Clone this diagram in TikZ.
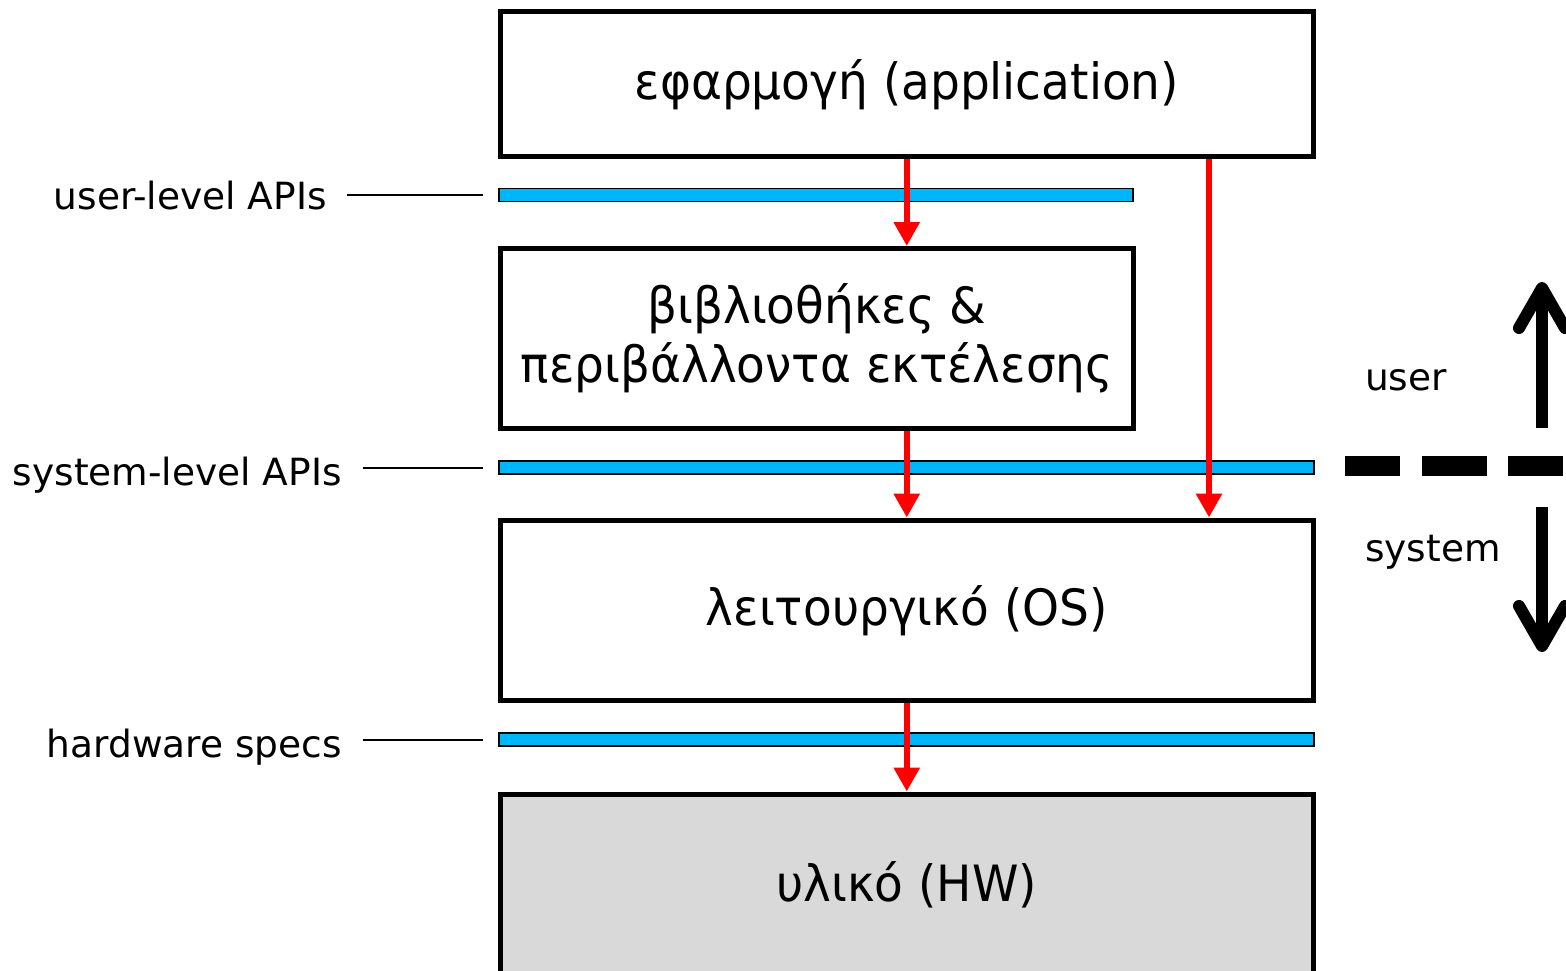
\documentclass[tikz,border=0pt]{standalone}
\usepackage{fontspec}
\setmainfont{DejaVu Sans}
\newfontfamily\layerfont{DejaVu Sans}[FakeStretch=0.94]
\usetikzlibrary{arrows.meta}
\definecolor{apiblue}{RGB}{0,182,250}
\definecolor{hwgray}{RGB}{217,217,217}
\definecolor{flowred}{RGB}{255,0,0}
\tikzset{
  layer/.style={draw=black, line width=5pt, fill=white, inner sep=0pt, align=center,
    font=\layerfont\fontsize{50}{59}\selectfont},
  apibar/.style={draw=black, line width=1.6pt, fill=apiblue, inner sep=0pt, minimum height=13pt},
  apilabel/.style={inner sep=0pt, anchor=base east, font=\fontsize{37.5}{44}\selectfont},
  sidelabel/.style={inner sep=0pt, anchor=base west, font=\fontsize{37.5}{44}\selectfont},
  leader/.style={draw=black, line width=2pt},
  flow/.style={draw=flowred, line width=6pt, -{Triangle[length=24pt,width=25pt]}},
  modearrow/.style={draw=black, line width=12pt,
    -{Straight Barb[length=40pt,width=46pt,line cap=round,line join=round]}}
}
\begin{document}
\begin{tikzpicture}[x=1pt,y=-1pt]
  \useasboundingbox (0,0) rectangle (1566,971);
  \clip (0,0) rectangle (1566,971);

  % software / hardware layers
  \node[layer, minimum width=812.5pt, minimum height=145pt] (app) at (906.75,84.5)
    {εφαρμογή (application)};
  \node[layer, minimum width=633pt, minimum height=179.5pt] (lib) at (817,338.25)
    {βιβλιοθήκες \&\\περιβάλλοντα εκτέλεσης};
  \node[layer, minimum width=812.5pt, minimum height=180.5pt] (os) at (906.75,610.25)
    {λειτουργικό (OS)};
  \node[layer, fill=hwgray, minimum width=812.5pt, minimum height=182pt] (hw) at (906.75,885)
    {υλικό (HW)};

  % interface bars
  \node[apibar, minimum width=634pt] (bar1) at (816,195) {};
  \node[apibar, minimum width=815pt] (bar2) at (906.5,467.5) {};
  \node[apibar, minimum width=815pt] (bar3) at (906.5,739.5) {};

  % interface labels with leaders
  \node[apilabel] (ul) at (327,209) {user-level APIs};
  \node[apilabel] (sl) at (342,485) {system-level APIs};
  \node[apilabel] (hs) at (342,757) {hardware specs};
  \draw[leader, shorten <=20pt, shorten >=15pt] (ul.east |- bar1.west) -- (bar1.west);
  \draw[leader, shorten <=21pt, shorten >=15pt] (sl.east |- bar2.west) -- (bar2.west);
  \draw[leader, shorten <=21pt, shorten >=15pt] (hs.east |- bar3.west) -- (bar3.west);

  % call flow between layers
  \draw[flow] (app.south) -- (app.south |- lib.north);
  \draw[flow] (lib.south -| app.south) -- (app.south |- os.north);
  \draw[flow] ([xshift=302.25pt]app.south) -- ([xshift=302.25pt]app.south |- os.north);
  \draw[flow] (os.south) -- (hw.north);

  % user / system boundary
  \coordinate (bnd0) at (1345,466);
  \coordinate (bnd1) at (1580,466);
  \draw[line width=20pt, dash pattern=on 55pt off 22pt on 65pt off 21pt] (bnd0) -- (bnd1);
  \coordinate (up0) at (1542,428);
  \coordinate (up1) at (1542,282);
  \coordinate (dn0) at (1542,507);
  \coordinate (dn1) at (1542,652);
  \draw[modearrow] (up0) -- (up1);
  \draw[modearrow] (dn0) -- (dn1);
  \node[sidelabel] (usr) at (1365,390) {user};
  \node[sidelabel] (sys) at (1365,561) {system};
\end{tikzpicture}
\end{document}
